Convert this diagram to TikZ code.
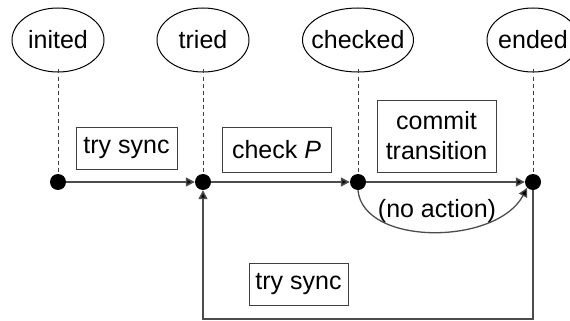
\documentclass[tikz,border=0pt]{standalone}
\usepackage{fontspec}
\setmainfont{Liberation Sans}
\usetikzlibrary{shapes.geometric,arrows.meta}
\begin{document}
\begin{tikzpicture}[x=1pt,y=-1pt,
  font=\fontsize{25}{30}\selectfont,
  stateell/.style={ellipse,draw=black,line width=1pt,inner sep=0pt,
    minimum height=64,minimum width=92},
  dot/.style={circle,fill=black,inner sep=0pt,minimum size=16},
  guide/.style={draw=black!75,line width=0.9pt,dash pattern=on 4pt off 3pt},
  flow/.style={draw=black!70,line width=1.6pt,
    -{Triangle[length=9pt,width=9pt,fill=black]}},
  actbox/.style={draw=black!75,line width=1pt,inner sep=0pt,align=center}]
\useasboundingbox (0,0) rectangle (570,321);

% states
\node[stateell] (inited)  at (58,40)  {\makebox[0pt]{inited}};
\node[stateell] (tried)   at (203,40) {\makebox[0pt]{tried}};
\node[stateell,minimum width=111] (checked) at (358,40) {\makebox[0pt]{checked}};
\node[stateell] (ended)   at (533,40) {\makebox[0pt]{ended}};

% time points
\node[dot] (p1) at (58,182)  {};
\node[dot] (p2) at (203,182) {};
\node[dot] (p3) at (358,182) {};
\node[dot] (p4) at (533,182) {};

% guides from states to points
\draw[guide] ([yshift=3]inited.south)  -- (p1.north);
\draw[guide] ([yshift=3]tried.south)   -- (p2.north);
\draw[guide] ([yshift=3]checked.south) -- (p3.north);
\draw[guide] ([yshift=3]ended.south)   -- (p4.north);

% actions
\node[actbox,minimum width=101,minimum height=42] (a1) at (126.5,148) {try sync};
\node[actbox,minimum width=109,minimum height=45] (a2) at (276.5,149.5) {check \textit{P}};
\node[actbox,minimum width=119,minimum height=72] (a3) at (436.5,136) {commit\\transition};
\node[actbox,minimum width=99,minimum height=42] (a4) at (298.5,284) {try sync};

% transitions
\draw[flow] (p1) -- (p2);
\draw[flow] (p2) -- (p3);
\draw[flow] (p3) -- (p4);
\coordinate (c1) at (533,319);
\coordinate (c2) at (203,319);
\draw[flow,line join=miter] (p4.south) -- (c1) -- (c2) -- (p2.south);
\draw[flow,line width=1.3pt] (p3.south) .. controls (363,246) and (496,246) .. (p4.south west);
\node (na) at (437,211) {(no action)};
\end{tikzpicture}
\end{document}
